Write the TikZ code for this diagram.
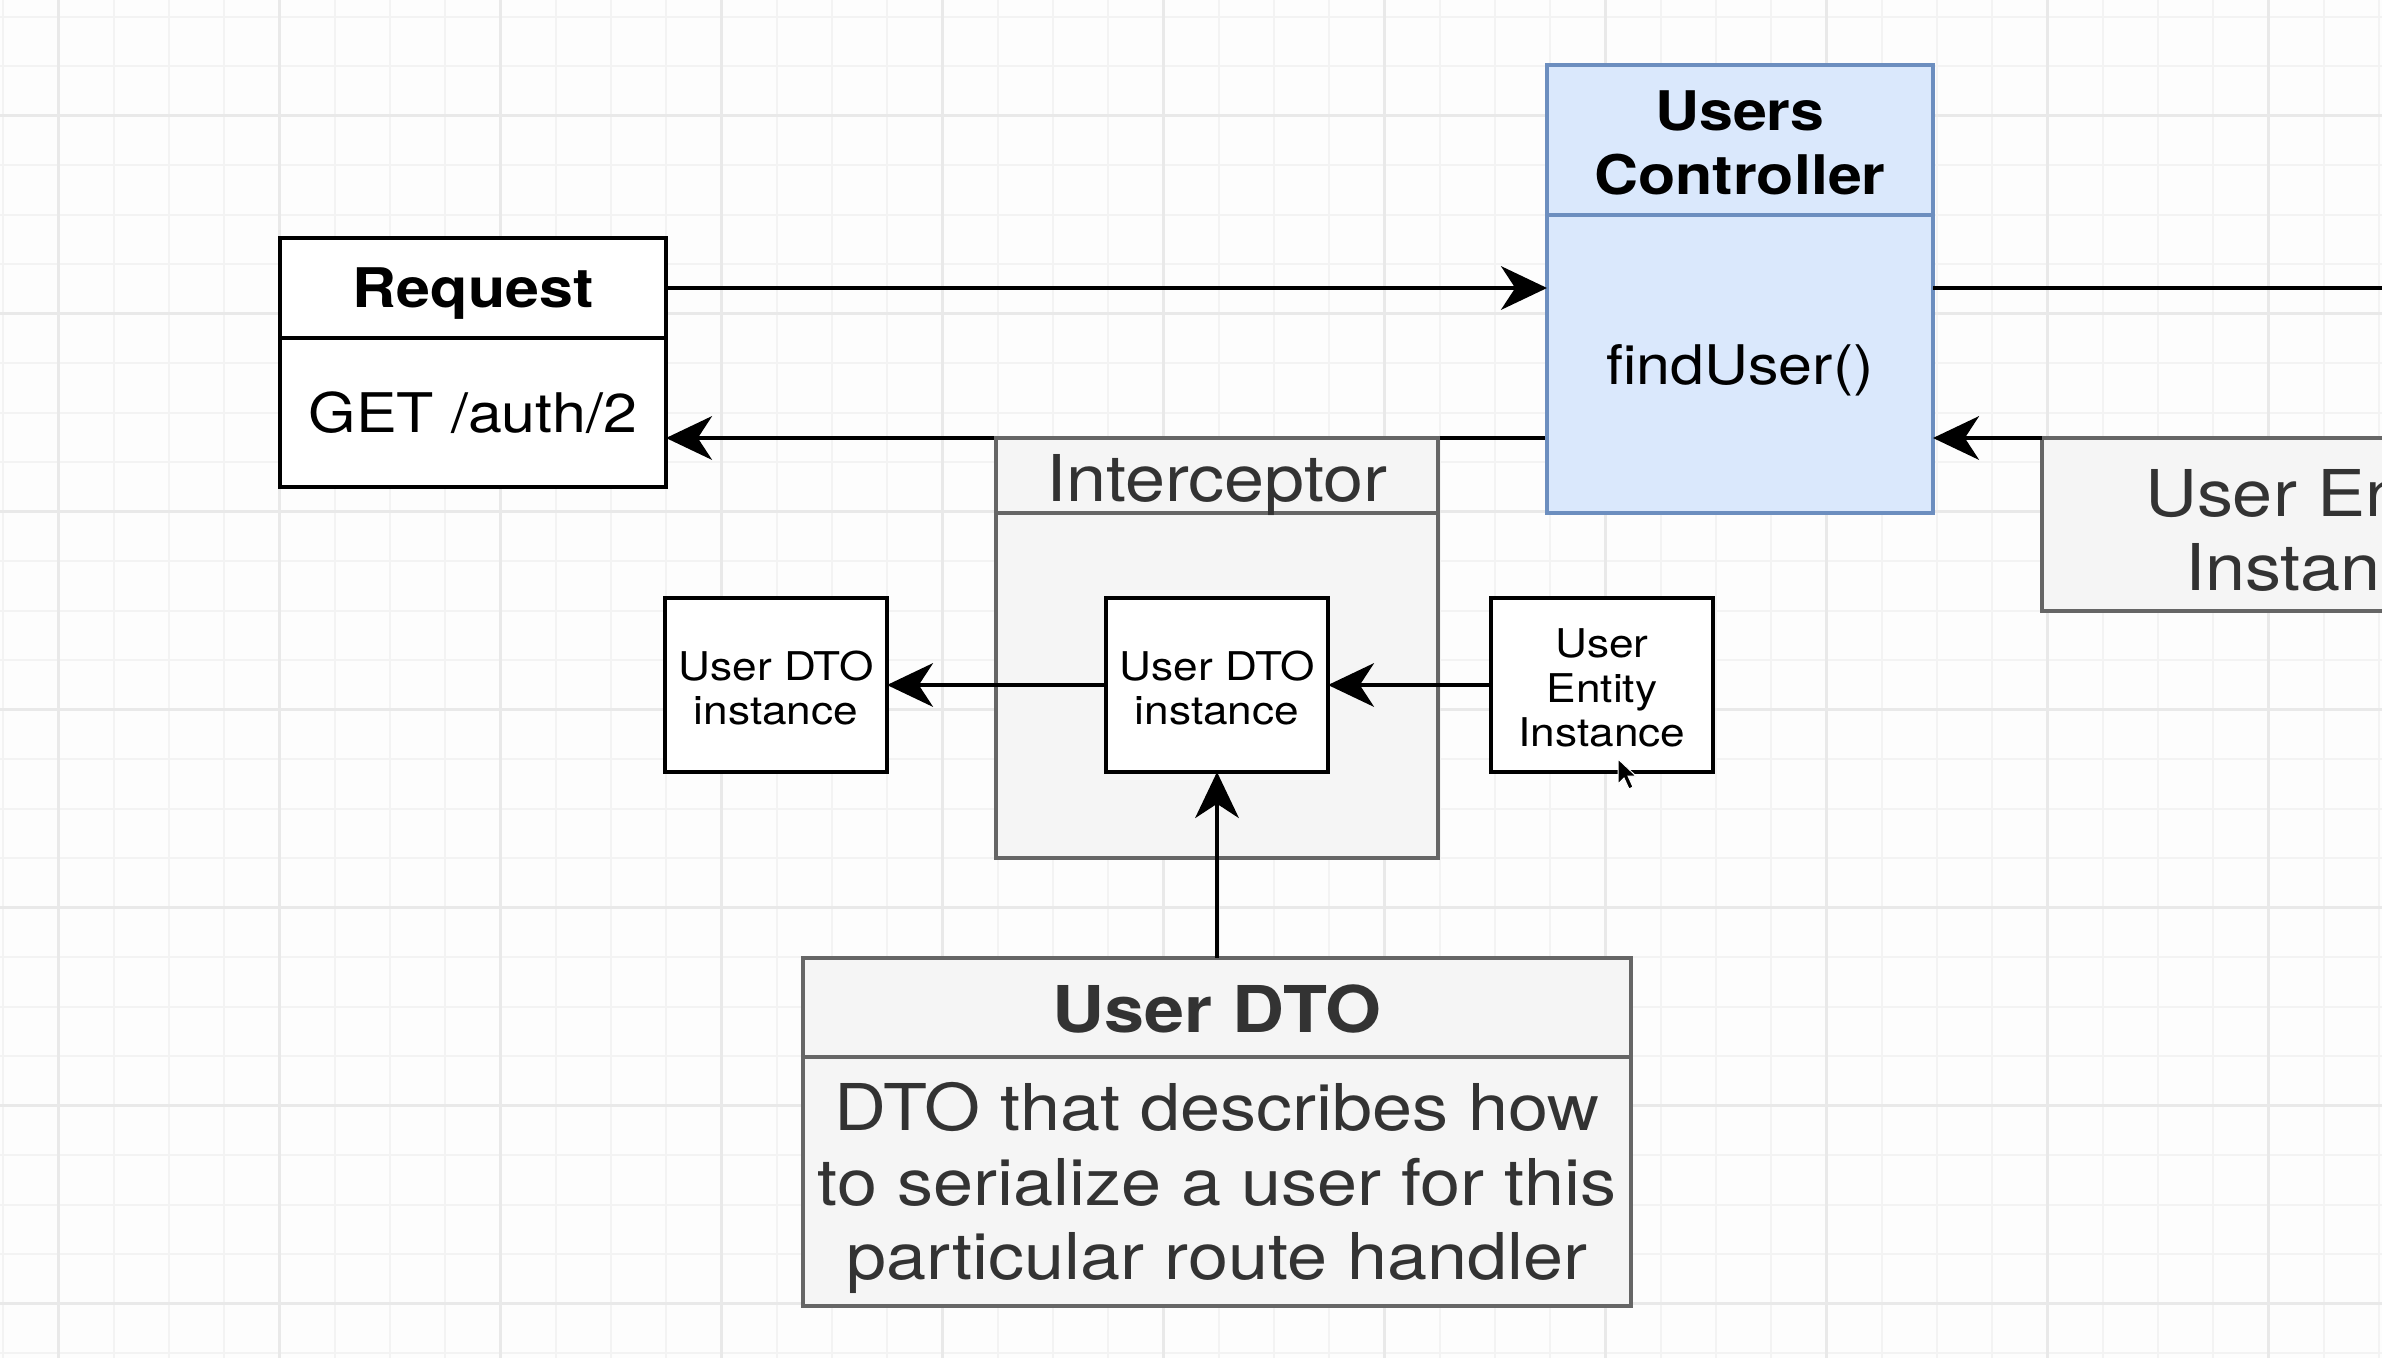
\documentclass[tikz,border=0pt]{standalone}
\usepackage{fontspec}
\setmainfont[FakeStretch=1.116]{TeX Gyre Heros}
\usetikzlibrary{arrows.meta}

\pgfdeclarelayer{grid}
\pgfdeclarelayer{wires}
\pgfsetlayers{grid,wires,main}

\definecolor{bgwhite}{HTML}{FDFDFD}
\definecolor{gridminor}{HTML}{F3F3F3}
\definecolor{gridmajor}{HTML}{E9E9E9}
\definecolor{ctrlfill}{HTML}{DAE8FC}
\definecolor{ctrlline}{HTML}{6C8EBF}
\definecolor{greyfill}{HTML}{F5F5F5}
\definecolor{greyline}{HTML}{666666}
\definecolor{greytext}{HTML}{333333}

% one drawing unit = one pixel of the canvas
\def\unitpx{0.333333pt}

\tikzset{
  box/.style={rectangle, inner sep=0pt, outer sep=0pt, line width=4.5*\unitpx},
  plainbox/.style={box, draw=black, fill=white},
  greybox/.style={box, draw=greyline, fill=greyfill},
  bluebox/.style={box, draw=ctrlline, fill=ctrlfill, line width=4*\unitpx},
  wh/.style 2 args={minimum width=#1*\unitpx, minimum height=#2*\unitpx},
  txt/.style={inner sep=0pt, outer sep=0pt, align=center, text=black},
  greytxt/.style={txt, text=greytext},
  fontA/.style={font=\fontsize{18.2}{21.4}\selectfont},
  fontAb/.style={font=\fontsize{18.2}{21.4}\selectfont\bfseries},
  fontB/.style={font=\fontsize{21.5}{24.8}\selectfont},
  fontBb/.style={font=\fontsize{21.5}{24.8}\selectfont\bfseries},
  fontC/.style={font=\fontsize{13.2}{14.8}\selectfont},
  wire/.style={draw=black, line width=4.5*\unitpx},
  arrow/.style={wire, -{Stealth[length=15.3pt, width=14.5pt, inset=4.7pt]}},
}

\begin{document}
\begin{tikzpicture}[x=\unitpx, y=-\unitpx]
\clip (0,0) rectangle (2382,1358);

% canvas grid
\begin{pgfonlayer}{grid}
  \fill[bgwhite] (0,0) rectangle (2382,1358);
  \foreach \k in {0,...,43}
    \draw[gridminor, line width=2*\unitpx] ({3+55.25*\k},0) -- ++(0,1358);
  \foreach \k in {0,...,27}
    \draw[gridminor, line width=2*\unitpx] (0,{16.7+49.5*\k}) -- ++(2382,0);
  \foreach \k in {0,...,10}
    \draw[gridmajor, line width=2.5*\unitpx] ({58.3+221*\k},0) -- ++(0,1358);
  \foreach \k in {0,...,6}
    \draw[gridmajor, line width=2.5*\unitpx] (0,{115.7+198*\k}) -- ++(2382,0);
\end{pgfonlayer}

% request
\node[plainbox, wh={386}{100}] (reqH) at (473,288) {};
\node[plainbox, wh={386}{149}, anchor=north] (reqB) at (reqH.south) {};
\node[txt, fontAb] (reqHtext) at ([yshift=-2pt]reqH.center) {Request};
\node[txt, fontA] (reqBtext) at (reqB.center) {GET /auth/2};

% controller
\node[bluebox, wh={386}{150}] (ctrlH) at (1740,140) {};
\node[bluebox, wh={386}{298}, anchor=north] (ctrlB) at (ctrlH.south) {};
\node[txt, fontAb] (ctrlHtext) at ([yshift=-1pt]ctrlH.center) {Users\\Controller};
\node[txt, fontA] (ctrlBtext) at ([yshift=-2pt]ctrlB.center) {findUser()};

% entity coming back from the service
\node[greybox, wh={558}{173}] (entBig) at (2321,524.5) {};
\node[greytxt, fontB] (entBigtext) at ([yshift=-2pt]entBig.center) {User Entity\\Instance};

% interceptor
\node[greybox, wh={442}{75}] (intH) at (1217,475.5) {};
\node[greybox, wh={442}{345}, anchor=north] (intB) at (intH.south) {};
\node[greytxt, fontB] (intHtext) at ([yshift=-3.3pt]intH.center) {Interceptor};

% instances passing through the interceptor
\node[plainbox, wh={222}{174}] (dtoMid) at (1217,685) {};
\node[plainbox, wh={222}{174}] (dtoOut) at (776,685) {};
\node[plainbox, wh={222}{174}] (entSmall) at (1602,685) {};
\node[txt, fontC] (dtoMidtext) at ([yshift=-1pt]dtoMid.center) {User DTO\\instance};
\node[txt, fontC] (dtoOuttext) at ([yshift=-1pt]dtoOut.center) {User DTO\\instance};
\node[txt, fontC] (entSmalltext) at ([yshift=-1pt]entSmall.center) {User\\Entity\\Instance};

% DTO description
\node[greybox, wh={828}{99}] (dtoH) at (1217,1007.5) {};
\node[greybox, wh={828}{249}, anchor=north] (dtoB) at (dtoH.south) {};
\node[greytxt, fontBb] (dtoHtext) at ([yshift=-0.5pt]dtoH.center) {User DTO};
\node[greytxt, fontB] (dtoBtext) at ([yshift=-2.2pt]dtoB.center)
  {DTO that describes how\\to serialize a user for this\\particular route handler};

% connectors
\coordinate (offright) at (2382,288);
\draw[arrow] (reqH.east) -- (ctrlB.west |- reqH.east);
\draw[wire] (ctrlB.east |- reqH.east) -- (offright);
\begin{pgfonlayer}{wires}
  \draw[arrow] (ctrlB.west |- intH.north) -- (reqB.east |- intH.north);
\end{pgfonlayer}
\draw[arrow] (entBig.north west) -- (ctrlB.east |- entBig.north west);
\draw[arrow] (entSmall.west) -- (dtoMid.east);
\draw[arrow] (dtoMid.west) -- (dtoOut.east);
\draw[arrow] (dtoH.north) -- (dtoMid.south);

% mouse pointer
\filldraw[fill=black, draw=white, line width=1*\unitpx]
  (1618,759) -- (1618,784) -- (1624,778) -- (1629,789) -- (1633,787)
  -- (1628,776) -- (1636,776) -- cycle;
\end{tikzpicture}
\end{document}
